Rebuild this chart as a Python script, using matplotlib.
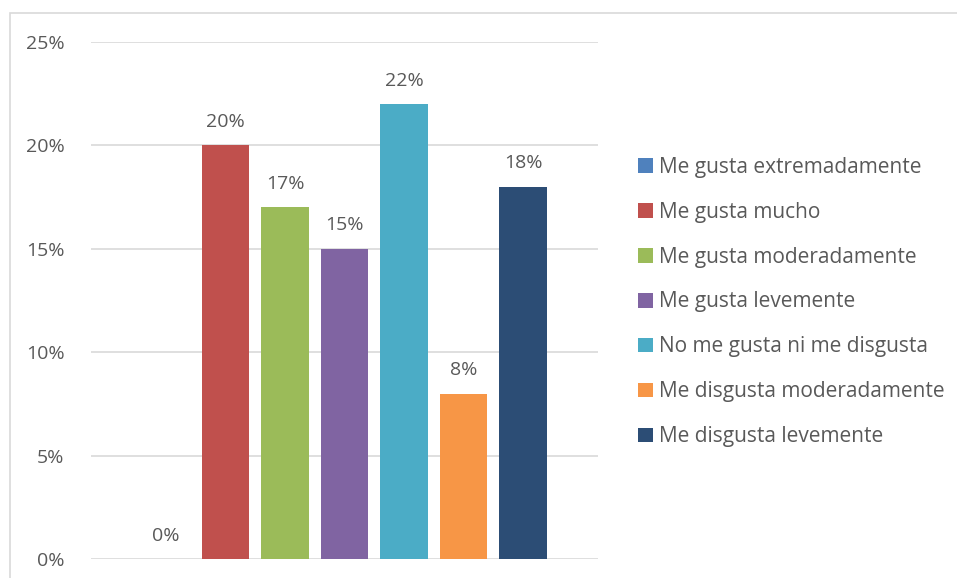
import matplotlib
matplotlib.use("Agg")
import matplotlib.pyplot as plt
from matplotlib.patches import Rectangle
from matplotlib.ticker import PercentFormatter

plt.rcParams["font.family"] = ["Open Sans", "DejaVu Sans"]

categories = [
    "Me gusta extremadamente",
    "Me gusta mucho",
    "Me gusta moderadamente",
    "Me gusta levemente",
    "No me gusta ni me disgusta",
    "Me disgusta moderadamente",
    "Me disgusta levemente",
]
values = [0, 20, 17, 15, 22, 8, 18]
colors = ["#4F81BD", "#C0504D", "#9BBB59", "#8064A2", "#4BACC6", "#F79646", "#2C4D75"]
yticks = [0, 5, 10, 15, 20, 25]

TEXT = "#595959"
GRID = "#D9D9D9"
FS = 14
LEG_FS = 15

fig = plt.figure(figsize=(9.57, 5.78), dpi=100)
fig.patches.append(Rectangle((9.5 / 957, -0.01), 1.0, (578 - 12.5) / 578 + 0.01,
                             transform=fig.transFigure, fill=False,
                             edgecolor=GRID, lw=1.2))

ax = fig.add_axes([91 / 957, 19 / 578, (598 - 91) / 957, (559 - 42) / 578])
for i, (name, v, c) in enumerate(zip(categories, values, colors)):
    ax.bar(i, v, width=0.8, color=c, label=name, zorder=3)
    ax.text(i, v + 0.7, f"{v}%", ha="center", va="bottom", fontsize=FS,
            color=TEXT)

ax.set_xlim(-1.26, 7.26)
ax.set_ylim(0, 25)
ax.set_yticks(yticks)
ax.yaxis.set_major_formatter(PercentFormatter(decimals=0))
ax.set_xticks([])
ax.grid(axis="y", color=GRID, lw=1.2, zorder=0)
for s in ax.spines.values():
    s.set_visible(False)
ax.tick_params(axis="y", length=0, pad=19, labelsize=FS, labelcolor=TEXT)

leg = fig.legend(loc="center left", bbox_to_anchor=(630 / 957, 1 - 302 / 578),
                 frameon=False, fontsize=LEG_FS, handlelength=0.7, handleheight=0.7,
                 handletextpad=0.3, labelspacing=1.15, borderaxespad=0)
for t in leg.get_texts():
    t.set_color(TEXT)

fig.savefig("out.png", dpi=100, facecolor="white")
